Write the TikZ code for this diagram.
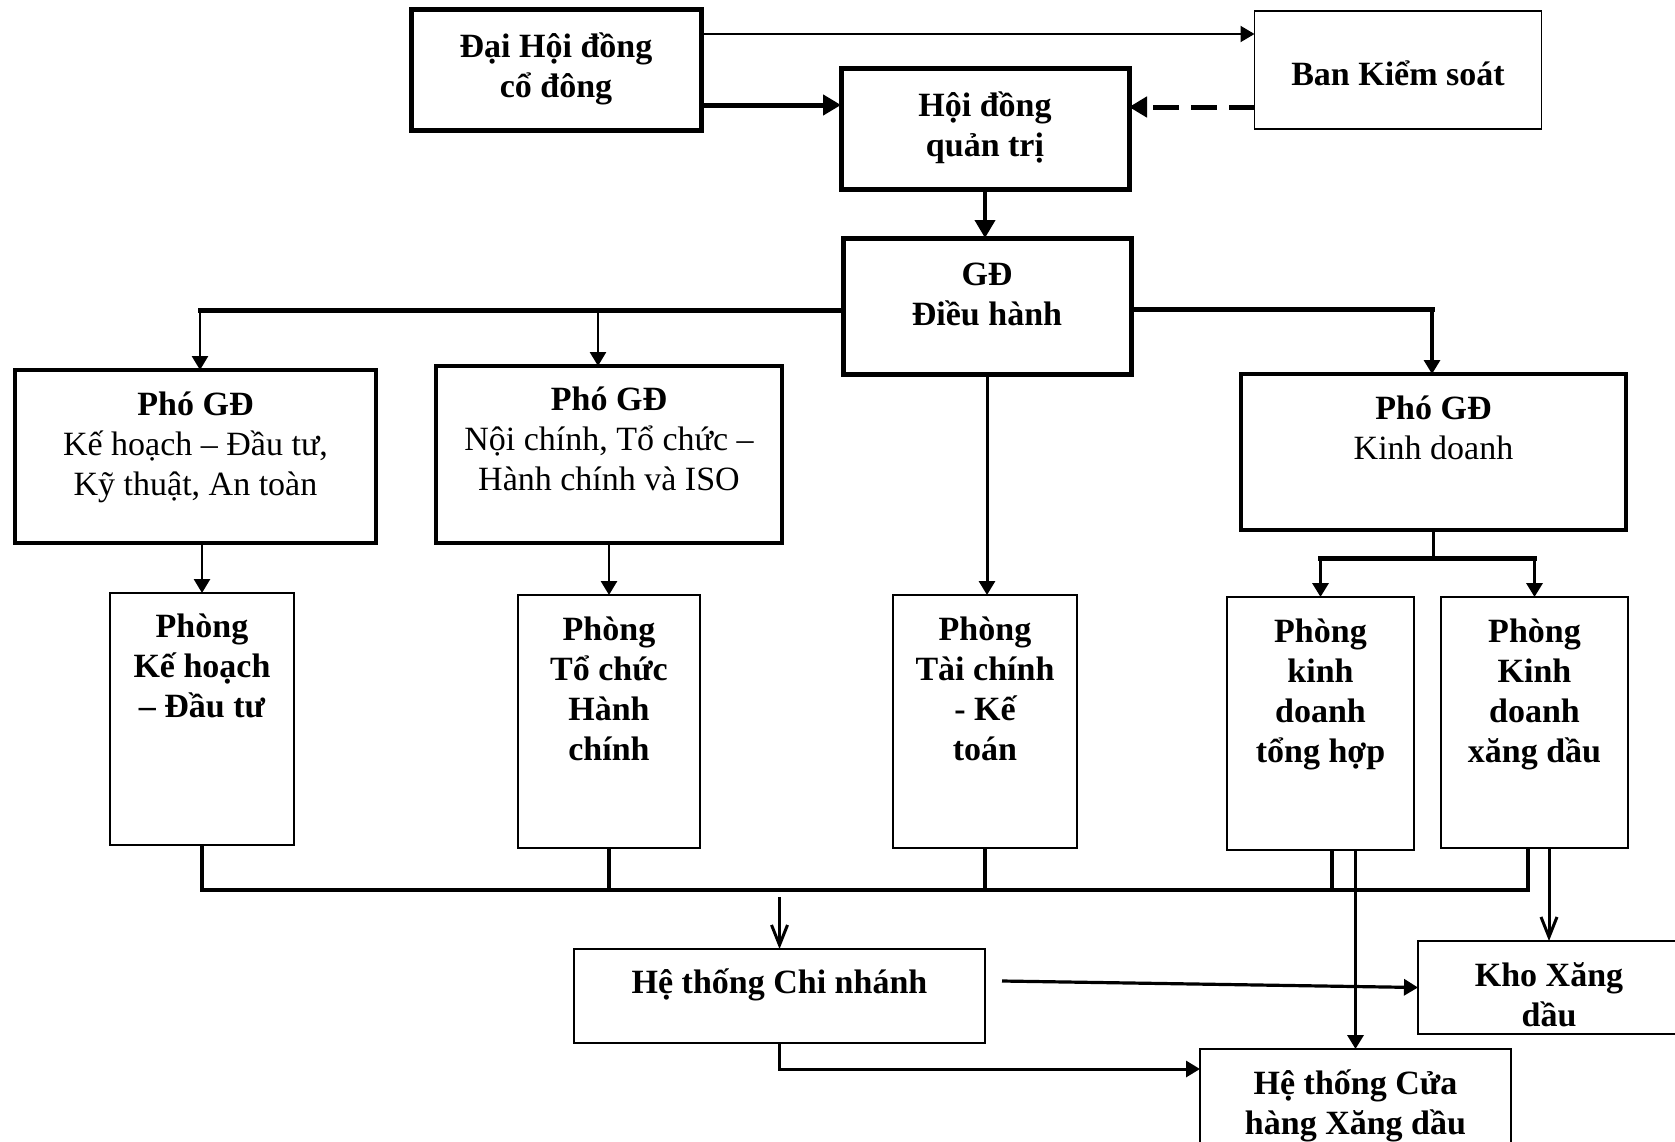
\documentclass[tikz,border=0pt]{standalone}
\usepackage{fontspec}
\setmainfont{Liberation Serif}
\usetikzlibrary{arrows.meta,calc}
\newdimen\pxu \pxu=0.5pt
\newcommand{\bx}[4]{\parbox[c][#2\pxu][t]{#1\pxu}{\centering\vspace*{\dimexpr #3\pxu-20pt\relax}\mbox{}\par #4\par}}
\tikzset{
  box/.style={draw, inner sep=0pt, outer sep=0pt, line width=0.75pt, font=\fontsize{17}{20}\selectfont},
  heavybox/.style={box, line width=2.5pt},
  midbox/.style={box, line width=1.8pt},
  arr/.style={-{Triangle[length=7pt,width=8pt]}},
  bigarr/.style={-{Triangle[length=9pt,width=10pt]}},
  barb/.style={-{Straight Barb[length=10pt,width=8pt]}},
}
\begin{document}
\begin{tikzpicture}[x=0.5pt,y=-0.5pt]
\path[fill=white] (0,0) rectangle (1675,1141);
\useasboundingbox (0,0) rectangle (1675,1141);

% nodes
\node[heavybox] (dhdcd) at (556,70) {\bx{290}{121}{48}{\bfseries Đại Hội đồng\\cổ đông}};
\node[box] (bks) at (1398,70) {\bx{287}{118}{74}{\bfseries Ban Kiểm soát}};
\node[heavybox] (hdqt) at (985,129) {\bx{288}{121}{48}{\bfseries Hội đồng\\quản trị}};
\node[heavybox] (gd) at (987,306) {\bx{288}{136}{47}{\bfseries GĐ\\Điều hành}};
\node[midbox] (pgd1) at (195.5,456.5) {\bx{361}{173}{45}{\textbf{Phó GĐ}\\Kế hoạch – Đầu tư,\\Kỹ thuật, An toàn}};
\node[midbox] (pgd2) at (609,454.5) {\bx{346}{177}{44}{\textbf{Phó GĐ}\\Nội chính, Tổ chức –\\Hành chính và ISO}};
\node[midbox] (pgdkd) at (1433.5,452) {\bx{385}{156}{45}{\textbf{Phó GĐ}\\Kinh doanh}};
\node[box] (pkhdt) at (202,719) {\bx{184}{252}{44}{\bfseries Phòng\\Kế hoạch\\– Đầu tư}};
\node[box] (ptchc) at (609,721.5) {\bx{182}{253}{45}{\bfseries Phòng\\Tổ chức\\Hành\\chính}};
\node[box] (ptckt) at (985,721.5) {\bx{184}{253}{45}{\bfseries Phòng\\Tài chính\\- Kế\\toán}};
\node[box] (pkdth) at (1320.5,723.5) {\bx{187}{253}{45}{\bfseries Phòng\\kinh\\doanh\\tổng hợp}};
\node[box] (pkdxd) at (1534.5,722.5) {\bx{187}{251}{45}{\bfseries Phòng\\Kinh\\doanh\\xăng dầu}};
\node[box] (htcn) at (779.5,996) {\bx{411}{94}{44}{\bfseries Hệ thống Chi nhánh}};
\node[box] (kho) at (1549,987.5) {\bx{262}{93}{45}{\bfseries Kho Xăng\\dầu}};
\node[box] (cuahang) at (1355.5,1104.5) {\bx{311}{111}{45}{\bfseries Hệ thống Cửa\\hàng Xăng dầu}};

% top connectors
\coordinate (c1) at ([yshift=18pt]dhdcd.east);
\draw[line width=1pt, arr] (c1) -- (c1 -| bks.west);
\coordinate (c2) at ([yshift=-17.5pt]dhdcd.east);
\draw[line width=2.5pt, bigarr] (c2) -- (c2 -| hdqt.west);
\coordinate (c3) at ([yshift=-18.5pt]bks.west);
\draw[line width=2.5pt, dash pattern=on 13pt off 6pt, bigarr] (c3) -- (c3 -| hdqt.east);
\draw[line width=2pt, bigarr] (hdqt.south) -- (hdqt.south |- gd.north);

% director buses
\coordinate (gl) at (200,310);
\coordinate (gm) at (598,310);
\coordinate (gr) at (1432,309);
\draw[line width=2.5pt, line cap=rect] (gd.west |- gl) -- (gl);
\draw[line width=2.5pt, line cap=rect] (gd.east |- gr) -- (gr);
\draw[line width=1.3pt, arr] (gl) -- (gl |- pgd1.north);
\draw[line width=1.3pt, arr] (gm) -- (gm |- pgd2.north);
\draw[line width=1.6pt, arr] (gr) -- (gr |- pgdkd.north);
\draw[line width=1.5pt, arr] (gd.south) -- (gd.south |- ptckt.north);

% deputies to departments
\draw[line width=1.4pt, arr] (pkhdt.north |- pgd1.south) -- (pkhdt.north);
\draw[line width=1.4pt, arr] (ptchc.north |- pgd2.south) -- (ptchc.north);
\coordinate (kd) at (1434,558);
\draw[line width=1.7pt] (pgdkd.south) -- (pgdkd.south |- kd);
\draw[line width=2.5pt, line cap=rect] (pkdth.north |- kd) -- (pkdxd.north |- kd);
\draw[line width=1.7pt, arr] (pkdth.north |- kd) -- (pkdth.north);
\draw[line width=1.7pt, arr] (pkdxd.north |- kd) -- (pkdxd.north);

% bottom bus
\coordinate (bb1) at (202,890);
\coordinate (t1) at ([xshift=5.75pt]pkdth.south);
\coordinate (t3) at ([xshift=-3.25pt]pkdxd.south);
\draw[line width=1.8pt, line cap=rect] (bb1) -- (t3 |- bb1);
\draw[line width=1.6pt] (pkhdt.south) -- (pkhdt.south |- bb1);
\draw[line width=1.6pt] (ptchc.south) -- (ptchc.south |- bb1);
\draw[line width=1.6pt] (ptckt.south) -- (ptckt.south |- bb1);
\draw[line width=1.6pt] (t1) -- (t1 |- bb1);
\draw[line width=1.6pt] (t3) -- (t3 |- bb1);

% lower connectors
\coordinate (b3) at (780,897);
\draw[line width=1.5pt, barb] (htcn.north |- b3) -- (htcn.north);
\draw[line width=1.7pt, arr] (cuahang.north |- pkdth.south) -- (cuahang.north);
\draw[line width=1.5pt, barb] (kho.north |- pkdxd.south) -- (kho.north);
\coordinate (h1) at ([xshift=8.5pt,yshift=7.5pt]htcn.east);
\draw[line width=1.6pt, arr] (h1) -- (kho.west);
\draw[line width=1.5pt, arr] (htcn.south) |- ([yshift=-10pt]cuahang.north west);
\end{tikzpicture}
\end{document}
